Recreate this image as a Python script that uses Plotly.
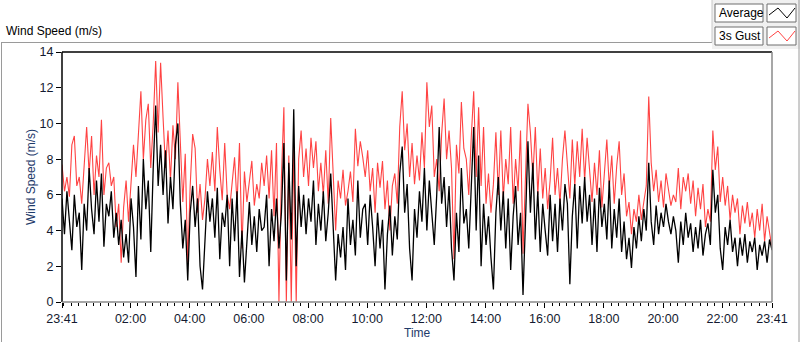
import pandas as pd
import plotly.graph_objects as go

# ---------------- data (5-minute samples) ----------------
start_time = "2021-03-01 23:41"
n_points = 289
sample_step = "5min"

gust = [
    # 23:41 - ~03:05
    7.7, 6.2, 7.0, 5.9, 8.8, 9.3, 6.5, 7.0, 5.5, 8.0, 9.8, 7.2, 9.3, 6.0, 8.2, 7.0, 10.2, 6.0, 7.5, 7.8,
    6.5, 7.0, 4.2, 5.5, 2.2, 5.3, 6.8, 4.5, 6.5, 8.8, 7.0, 9.8, 11.8, 8.0, 10.2, 11.1, 7.5, 10.0, 13.5, 9.5, 13.4,
    # ~03:06 - ~06:30
    10.3, 7.5, 9.6, 6.8, 9.9, 8.0, 12.3, 8.8, 5.6, 8.3, 2.2, 6.5, 9.4, 8.6, 5.0, 6.6, 4.6, 5.8, 8.0, 6.5,
    8.4, 6.2, 9.8, 7.4, 5.7, 8.9, 6.0, 5.2, 6.8, 8.1, 5.5, 8.9, 3.0, 7.3, 5.6, 6.6, 7.9, 5.4, 6.6, 5.8, 7.8,
    # ~06:31 - ~09:55
    6.5, 8.2, 5.8, 8.5, 4.8, 8.9, 0.0, 7.0, 10.9, 0.0, 8.2, 0.0, 8.7, 0.0, 8.0, 9.6, 7.0, 8.6, 6.5, 9.2,
    7.5, 9.0, 6.2, 7.8, 6.0, 8.5, 5.5, 10.3, 7.2, 4.0, 6.8, 5.8, 7.4, 5.4, 6.2, 7.3, 5.6, 9.7, 7.6, 9.0, 8.1,
    # ~09:56 - ~13:20
    7.0, 8.5, 6.2, 7.5, 5.0, 7.8, 6.4, 7.9, 5.2, 6.8, 4.0, 6.5, 7.2, 5.5, 9.8, 11.8, 8.5, 10.0, 7.0, 8.9,
    6.6, 8.2, 6.8, 9.5, 7.5, 12.3, 9.8, 11.0, 7.0, 8.0, 6.2, 9.4, 11.4, 8.0, 9.6, 7.5, 2.4, 8.8, 7.2, 11.2, 8.6,
    # ~13:21 - ~16:45
    8.0, 6.0, 9.2, 11.8, 7.0, 10.9, 6.5, 9.8, 5.5, 7.2, 5.0, 6.6, 9.5, 6.0, 9.6, 5.8, 8.0, 6.6, 9.8, 5.5,
    8.0, 6.2, 9.6, 2.7, 7.0, 11.1, 9.5, 7.0, 9.8, 6.0, 8.6, 5.8, 7.5, 5.2, 6.8, 9.2, 6.0, 7.5, 5.5, 8.0, 9.6,
    # ~16:46 - ~20:10
    7.6, 5.8, 9.1, 6.5, 9.0, 7.0, 9.7, 6.8, 9.2, 7.5, 5.6, 7.8, 6.0, 8.5, 5.3, 7.2, 9.1, 6.4, 8.2, 5.5,
    7.6, 9.0, 6.0, 7.2, 4.8, 5.6, 3.8, 5.2, 4.5, 6.0, 4.6, 5.6, 6.5, 11.5, 7.8, 6.2, 7.4, 5.6, 6.8, 5.3, 7.2,
    # ~20:11 - 23:41
    6.3, 5.4, 6.0, 5.6, 7.5, 5.2, 7.0, 6.2, 7.2, 5.5, 6.8, 4.8, 6.4, 5.2, 6.6, 4.2, 5.2, 4.5, 9.6, 7.4,
    8.7, 5.6, 7.0, 5.4, 6.5, 4.6, 6.0, 5.0, 5.8, 3.8, 5.4, 4.4, 5.6, 4.2, 5.0, 3.6, 5.2, 4.0, 5.5, 3.4,
    4.8, 3.8, 3.0,
]

average = [
    5.8, 3.8, 6.2, 4.5, 2.9, 6.0, 4.2, 5.0, 1.8, 5.5, 4.0, 7.5, 5.2, 3.8, 6.8, 4.5, 7.2, 3.1, 5.5, 4.8,
    6.2, 3.6, 5.0, 3.2, 4.6, 2.5, 3.8, 2.2, 5.8, 4.2, 1.4, 6.5, 3.5, 8.0, 5.2, 6.8, 2.8, 7.5, 11.0, 6.5, 8.8,
    6.0, 8.5, 4.4, 7.0, 5.2, 8.8, 10.0, 5.5, 3.0, 4.6, 1.2, 5.0, 6.5, 4.2, 5.8, 2.0, 0.7, 3.5, 6.2, 4.5,
    5.8, 3.6, 6.4, 2.4, 5.0, 4.2, 6.0, 2.0, 5.8, 3.4, 6.2, 1.4, 4.0, 1.1, 3.5, 5.6, 3.2, 4.8, 2.8, 5.2, 4.0,
    4.2, 6.0, 2.0, 5.2, 3.4, 5.8, 3.0, 5.0, 8.9, 1.2, 7.8, 3.5, 10.8, 2.0, 6.5, 4.2, 6.0, 3.8, 5.8, 4.5,
    6.8, 3.2, 5.5, 4.0, 6.2, 3.4, 5.0, 7.2, 4.0, 1.2, 3.8, 2.5, 4.2, 1.8, 5.8, 3.2, 4.6, 2.6, 6.8, 3.6, 5.2,
    5.5, 3.2, 6.0, 4.2, 2.0, 5.0, 3.0, 4.6, 0.7, 3.8, 5.4, 2.6, 4.8, 3.5, 7.2, 8.7, 5.0, 6.6, 3.0, 1.2,
    5.2, 3.6, 6.2, 4.5, 7.5, 4.0, 6.8, 5.0, 3.2, 6.0, 9.8, 5.5, 7.0, 4.2, 6.5, 3.0, 1.2, 5.0, 2.8, 7.5, 4.4,
    5.2, 3.0, 6.4, 9.8, 4.0, 8.2, 2.0, 5.5, 3.2, 4.8, 2.5, 0.7, 5.0, 7.0, 4.0, 6.2, 3.0, 5.8, 1.8, 4.8,
    6.5, 3.2, 5.0, 0.4, 4.5, 9.0, 5.0, 7.8, 3.5, 6.2, 2.8, 5.5, 4.0, 2.6, 6.0, 3.4, 5.5, 2.8, 5.8, 4.0, 6.6,
    5.5, 1.0, 4.8, 6.6, 3.0, 6.5, 4.4, 7.0, 4.5, 6.0, 3.2, 5.8, 2.8, 6.4, 4.2, 5.5, 3.5, 6.8, 3.0, 5.2,
    3.6, 5.8, 2.8, 4.5, 2.4, 3.6, 1.9, 4.2, 3.0, 4.8, 3.4, 5.2, 4.0, 7.8, 4.5, 3.2, 5.4, 3.8, 5.0, 4.2, 5.5,
    4.5, 3.8, 4.8, 4.0, 2.2, 4.5, 3.2, 5.0, 3.6, 4.4, 2.8, 4.2, 3.0, 4.6, 2.6, 3.8, 4.4, 3.2, 7.4, 5.0,
    6.0, 3.0, 1.8, 4.2, 3.2, 4.6, 2.8, 3.6, 2.0, 3.6, 2.6, 3.8, 2.2, 3.4, 2.8, 3.6, 1.8, 3.2, 2.6, 3.4,
    2.2, 3.5, 2.9,
]

tick_labels = ["23:41", "02:00", "04:00", "06:00", "08:00", "10:00", "12:00",
               "14:00", "16:00", "18:00", "20:00", "22:00", "23:41"]
y_ticks = [0, 2, 4, 6, 8, 10, 12, 14]

times = pd.date_range(start_time, periods=n_points, freq=sample_step)
day2 = times[0].normalize() + pd.Timedelta(days=1)
tick_vals = [times[0]] + [day2 + pd.Timedelta(hours=h) for h in range(2, 24, 2)] + [times[-1]]

# ---------------- figure ----------------
W, H = 800, 342
L, R, T, B = 62, 28, 52, 40
PW, PH = W - L - R, H - T - B
FONT = "Liberation Sans"


def px(x):
    return (x - L) / PW


def py(y):
    return (H - B - y) / PH


fig = go.Figure()
fig.add_trace(go.Scatter(x=times, y=gust, mode="lines", name="3s Gust",
                         line=dict(color="#ff4343", width=1.1)))
fig.add_trace(go.Scatter(x=times, y=average, mode="lines", name="Average",
                         line=dict(color="#000000", width=1.3)))

tick_font = dict(family=FONT, size=12.5, color="#141a30")
title_color = "#1e3a6a"

fig.update_layout(
    width=W, height=H,
    margin=dict(l=L, r=R, t=T, b=B, autoexpand=False),
    paper_bgcolor="white", plot_bgcolor="white",
    showlegend=False,
    xaxis=dict(
        range=[times[0], times[-1]], automargin=False,
        tickmode="array", tickvals=tick_vals, ticktext=tick_labels,
        ticks="outside", ticklen=5, tickcolor="#000000",
        showgrid=False, zeroline=False, showline=False,
        tickfont=tick_font,
        minor=dict(ticks="outside", ticklen=3, tickcolor="#000000",
                   tick0=day2, dtick=15 * 60 * 1000, showgrid=False),
    ),
    yaxis=dict(
        range=[0, 14], tickvals=y_ticks, automargin=False,
        ticks="outside", ticklen=5, tickcolor="#000000",
        showgrid=False, zeroline=False, showline=False,
        tickfont=tick_font,
    ),
)

shapes = []
# plot frame
shapes.append(dict(type="line", xref="paper", yref="paper", x0=0, x1=1, y0=1, y1=1, line=dict(color="#000", width=1.5)))
shapes.append(dict(type="line", xref="paper", yref="paper", x0=0, x1=0, y0=0, y1=1, line=dict(color="#000", width=1.5)))
shapes.append(dict(type="line", xref="paper", yref="paper", x0=0, x1=1, y0=0, y1=0, line=dict(color="#8a8a8a", width=1.5)))
shapes.append(dict(type="line", xref="paper", yref="paper", x0=1, x1=1, y0=0, y1=1, line=dict(color="#8a8a8a", width=1.5)))
# legend panel background
shapes.append(dict(type="rect", xref="paper", yref="paper", x0=px(712), x1=px(800), y0=py(49), y1=py(0),
                   fillcolor="#f0f0f0", line=dict(width=0), layer="below"))
# outer panel border
shapes.append(dict(type="line", xref="paper", yref="paper", x0=px(1), x1=px(712), y0=py(42.5), y1=py(42.5), line=dict(color="#9a9a9a", width=1)))
shapes.append(dict(type="line", xref="paper", yref="paper", x0=px(1.5), x1=px(1.5), y0=py(42.5), y1=py(342), line=dict(color="#9a9a9a", width=1)))
shapes.append(dict(type="line", xref="paper", yref="paper", x0=px(712), x1=px(712), y0=py(0), y1=py(42.5), line=dict(color="#c8c8c8", width=1)))
shapes.append(dict(type="line", xref="paper", yref="paper", x0=px(799), x1=px(799), y0=py(0), y1=py(342), line=dict(color="#9a9a9a", width=1)))
# legend boxes
for top in (4, 27):
    shapes.append(dict(type="rect", xref="paper", yref="paper", x0=px(715), x1=px(763), y0=py(top + 18), y1=py(top),
                       fillcolor="white", line=dict(color="#6e6e6e", width=1)))
    shapes.append(dict(type="rect", xref="paper", yref="paper", x0=px(767), x1=px(796), y0=py(top + 18), y1=py(top),
                       fillcolor="white", line=dict(color="#6e6e6e", width=1)))
for top, col in ((4, "#000000"), (27, "#ff4343")):
    path = "M {} {} L {} {} L {} {} L {} {}".format(
        px(769), py(top + 11), px(778), py(top + 4), px(787), py(top + 14), px(795), py(top + 4))
    shapes.append(dict(type="path", xref="paper", yref="paper", path=path, line=dict(color=col, width=1)))
fig.update_layout(shapes=shapes)

annotations = [
    dict(text="Wind Speed (m/s)", xref="paper", yref="paper", x=px(4), y=py(31), xanchor="left", yanchor="middle",
         showarrow=False, font=dict(family=FONT, size=12, color="#000000")),
    dict(text="Average", xref="paper", yref="paper", x=px(717), y=py(13), xanchor="left", yanchor="middle",
         showarrow=False, font=dict(family=FONT, size=12, color="#000000")),
    dict(text="3s Gust", xref="paper", yref="paper", x=px(717), y=py(36), xanchor="left", yanchor="middle",
         showarrow=False, font=dict(family=FONT, size=12, color="#000000")),
    dict(text="Time", xref="paper", yref="paper", x=px(417), y=py(333), xanchor="center", yanchor="middle",
         showarrow=False, font=dict(family=FONT, size=12, color=title_color)),
    dict(text="Wind Speed (m/s)", xref="paper", yref="paper", x=px(31), y=py(177), xanchor="center", yanchor="middle",
         textangle=-90, showarrow=False, font=dict(family=FONT, size=12, color=title_color)),
]
fig.update_layout(annotations=annotations)

fig.write_html("out.html", config={"displayModeBar": False},
               post_script="document.body.style.margin='0';document.body.style.overflow='hidden';")
